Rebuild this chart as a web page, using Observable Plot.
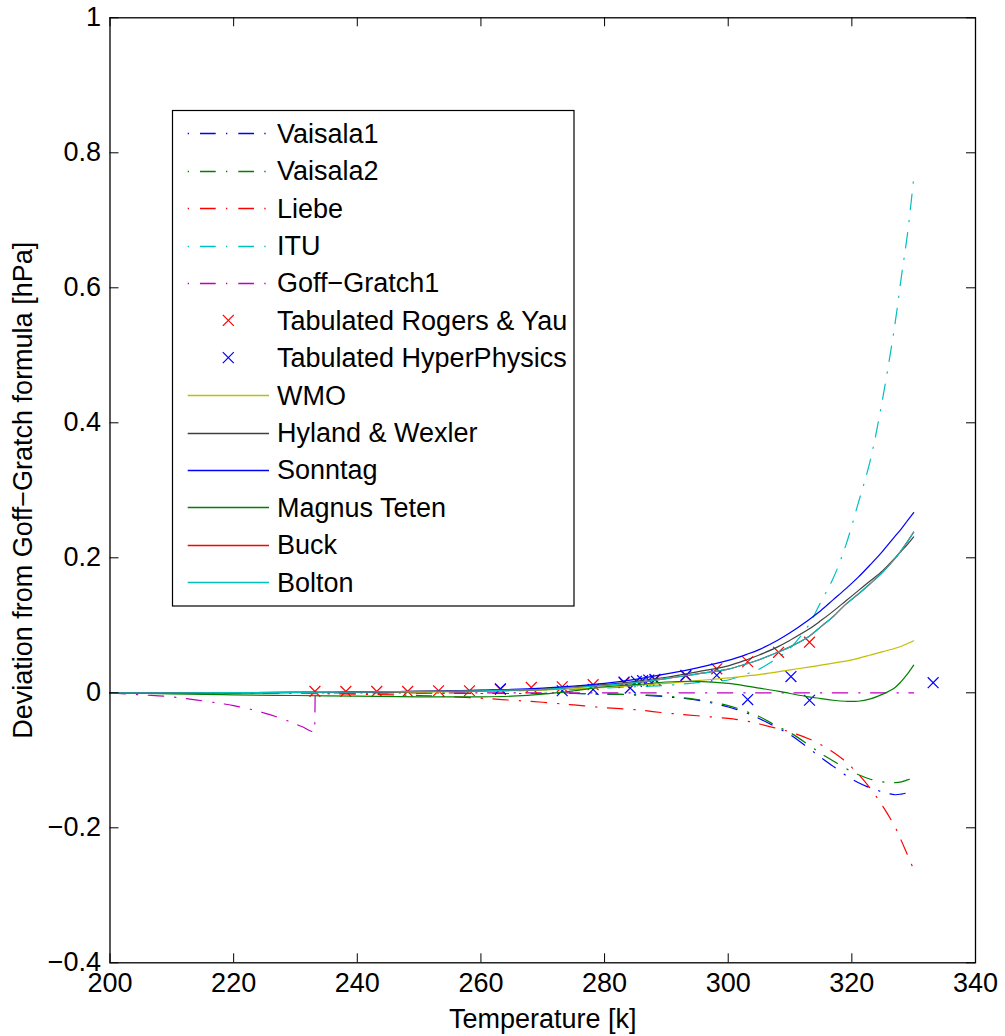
<!DOCTYPE html>
<html>
<head>
<meta charset="utf-8">
<script src="https://cdn.jsdelivr.net/npm/d3@7"></script>
<script src="https://cdn.jsdelivr.net/npm/@observablehq/plot@0.6"></script>
<style>
  html, body { margin: 0; padding: 0; background: white; }
  #wrap { position: relative; width: 1005px; height: 1036px; }
  #legend { position: absolute; left: 0; top: 0; pointer-events: none; }
</style>
</head>
<body>
<div id="wrap"></div>
<script>
// ---------- data ----------
const xTicks = [200, 220, 240, 260, 280, 300, 320, 340];
const yTicks = [-0.4, -0.2, 0, 0.2, 0.4, 0.6, 0.8, 1];
const xLabel = "Temperature [k]";
const yLabel = "Deviation from Goff\u2212Gratch formula [hPa]";

// common temperature grid for the formula curves [K]
const tGrid = [200, 210, 220, 230, 240, 250, 260, 265, 270, 275, 280, 285, 290, 295, 300, 303, 305, 308, 310, 313, 315, 317, 319, 321, 323, 325, 327, 328, 329, 330];

const vaisala1 = [0, 0, 0, 0, 0, 0, -0.001, -0.001, -0.001, -0.001, -0.002, -0.003, -0.006, -0.011, -0.021, -0.030, -0.038, -0.052, -0.062, -0.082, -0.096, -0.109, -0.122, -0.133, -0.141, -0.147, -0.151, -0.150, -0.148, -0.145];
const vaisala2 = [0, 0, 0, 0, 0, 0, -0.001, -0.001, -0.001, -0.001, -0.002, -0.003, -0.005, -0.010, -0.019, -0.028, -0.035, -0.050, -0.059, -0.077, -0.090, -0.101, -0.112, -0.121, -0.128, -0.132, -0.133, -0.132, -0.129, -0.126];
const liebe    = [0, 0, -0.0005, -0.001, -0.002, -0.004, -0.008, -0.011, -0.014, -0.018, -0.022, -0.025, -0.030, -0.034, -0.038, -0.042, -0.046, -0.053, -0.058, -0.068, -0.077, -0.088, -0.102, -0.120, -0.142, -0.168, -0.199, -0.219, -0.240, -0.262];
const itu      = [0, 0, 0, 0.0005, 0.001, 0.001, 0.002, 0.003, 0.004, 0.005, 0.007, 0.009, 0.011, 0.015, 0.019, 0.028, 0.035, 0.052, 0.066, 0.100, 0.135, 0.170, 0.218, 0.280, 0.345, 0.437, 0.548, 0.616, 0.680, 0.762];
const wmo      = [0, 0, 0, 0, 0.0005, 0.001, 0.002, 0.003, 0.004, 0.006, 0.008, 0.011, 0.014, 0.018, 0.022, 0.025, 0.027, 0.031, 0.034, 0.038, 0.041, 0.044, 0.047, 0.051, 0.056, 0.061, 0.066, 0.069, 0.073, 0.077];
const hyland   = [0, 0, 0.0003, 0.0006, 0.001, 0.002, 0.0035, 0.0045, 0.006, 0.009, 0.012, 0.017, 0.023, 0.031, 0.040, 0.049, 0.056, 0.068, 0.078, 0.094, 0.107, 0.121, 0.136, 0.151, 0.166, 0.181, 0.200, 0.210, 0.220, 0.231];
const sonntag  = [0, 0, 0.0003, 0.0006, 0.001, 0.002, 0.004, 0.005, 0.007, 0.010, 0.014, 0.020, 0.028, 0.037, 0.048, 0.057, 0.064, 0.078, 0.089, 0.108, 0.122, 0.138, 0.154, 0.171, 0.190, 0.210, 0.232, 0.243, 0.255, 0.267];
const magnus   = [0, -0.0015, -0.003, -0.004, -0.005, -0.006, -0.006, -0.005, -0.002, 0.003, 0.009, 0.012, 0.016, 0.017, 0.014, 0.010, 0.007, 0.0025, -0.001, -0.006, -0.0085, -0.011, -0.0125, -0.0125, -0.009, -0.002, 0.008, 0.017, 0.028, 0.041];
const buck     = [0, 0, 0.0003, 0.0006, 0.001, 0.002, 0.003, 0.004, 0.005, 0.008, 0.011, 0.015, 0.021, 0.028, 0.035, 0.043, 0.049, 0.060, 0.068, 0.083, 0.098, 0.113, 0.131, 0.146, 0.162, 0.179, 0.199, 0.211, 0.224, 0.238];
const bolton   = [0, 0, 0.0003, 0.0006, 0.001, 0.002, 0.003, 0.004, 0.005, 0.008, 0.011, 0.015, 0.021, 0.028, 0.035, 0.043, 0.049, 0.060, 0.068, 0.083, 0.098, 0.113, 0.131, 0.146, 0.162, 0.179, 0.199, 0.211, 0.224, 0.238];

// Goff-Gratch1 (ice below 233.15 K)
const goffT = [200, 205, 210, 215, 220, 225, 228, 231, 233.1, 233.2, 260, 300, 330];
const goffV = [0, -0.003, -0.006, -0.012, -0.019, -0.030, -0.039, -0.050, -0.058, 0, 0, 0, 0];

// tabulated values
const rogersT = [233.15, 238.15, 243.15, 248.15, 253.15, 258.15, 263.15, 268.15, 273.15, 278.15, 283.15, 288.15, 293.15, 298.15, 303.15, 308.15, 313.15];
const rogersV = [0.002, 0.002, 0.002, 0.002, 0.003, 0.003, 0.005, 0.008, 0.009, 0.012, 0.015, 0.019, 0.025, 0.0355, 0.046, 0.060, 0.075];
const hyperT = [263.15, 273.15, 278.15, 283.15, 284.15, 285.15, 286.15, 287.15, 288.15, 293.15, 298.15, 303.15, 310.15, 313.15, 333.15];
const hyperV = [0.006, 0.003, 0.005, 0.016, 0.007, 0.017, 0.018, 0.019, 0.020, 0.026, 0.026, -0.010, 0.024, -0.011, 0.015];

// legend
const legendNames = ["Vaisala1", "Vaisala2", "Liebe", "ITU", "Goff\u2212Gratch1", "Tabulated Rogers & Yau", "Tabulated HyperPhysics", "WMO", "Hyland & Wexler", "Sonntag", "Magnus Teten", "Buck", "Bolton"];
const legendColors = ["#0000ff", "#008000", "#ff0000", "#00bfbf", "#bf00bf", "#ff0000", "#0000ff", "#bfbf00", "#404040", "#0000ff", "#008000", "#ff0000", "#00bfbf"];
const legendKinds = ["dashdot", "dashdot", "dashdot", "dashdot", "dashdot", "cross", "cross", "solid", "solid", "solid", "solid", "solid", "solid"];

// ---------- build ----------
const W = 1005, H = 1036;
const mL = 109.5, mR = 30, mT = 17.3, mB = 73.7;
const innerW = W - mL - mR, innerH = H - mT - mB;
const font = "'Liberation Sans', Arial, Helvetica, sans-serif";
const FS = 27;
const DASHDOT = "15.5,11,1.3,10.5";
const SW = 1.2;

const seriesCurves = [
  {vals: vaisala1, color: legendColors[0]},
  {vals: vaisala2, color: legendColors[1]},
  {vals: liebe, color: legendColors[2]},
  {vals: itu, color: legendColors[3]},
];
const seriesSolid = [
  {vals: wmo, color: legendColors[7]},
  {vals: hyland, color: legendColors[8]},
  {vals: sonntag, color: legendColors[9]},
  {vals: magnus, color: legendColors[10]},
  {vals: buck, color: legendColors[11]},
  {vals: bolton, color: legendColors[12]},
];
const toRows = (ts, vs) => ts.map((t, i) => ({T: t, v: vs[i]}));

const fmtY = d => d === 0 ? "0" : (d < 0 ? "\u2212" : "") + String(+Math.abs(d).toFixed(1));

const marks = [];
for (const s of seriesCurves) {
  marks.push(Plot.line(toRows(tGrid, s.vals), {x: "T", y: "v", stroke: s.color, strokeWidth: SW, strokeDasharray: DASHDOT, curve: "catmull-rom"}));
}
marks.push(Plot.line(toRows(goffT, goffV), {x: "T", y: "v", stroke: legendColors[4], strokeWidth: SW, strokeDasharray: DASHDOT, curve: "monotone-x"}));
marks.push(Plot.dot(toRows(rogersT, rogersV), {x: "T", y: "v", symbol: "times", r: 5, stroke: legendColors[5], strokeWidth: SW}));
marks.push(Plot.dot(toRows(hyperT, hyperV), {x: "T", y: "v", symbol: "times", r: 5, stroke: legendColors[6], strokeWidth: SW}));
for (const s of seriesSolid) {
  marks.push(Plot.line(toRows(tGrid, s.vals), {x: "T", y: "v", stroke: s.color, strokeWidth: SW, curve: "catmull-rom"}));
}
// inward ticks on all four sides
marks.push(Plot.tickX(xTicks, {x: d => d, insetTop: innerH - 9, stroke: "black", strokeWidth: 1}));
marks.push(Plot.tickX(xTicks, {x: d => d, insetBottom: innerH - 9, stroke: "black", strokeWidth: 1}));
marks.push(Plot.tickY(yTicks, {y: d => d, insetRight: innerW - 9, stroke: "black", strokeWidth: 1}));
marks.push(Plot.tickY(yTicks, {y: d => d, insetLeft: innerW - 9, stroke: "black", strokeWidth: 1}));
marks.push(Plot.frame({stroke: "black", strokeWidth: 1.3}));
marks.push(Plot.axisX(xTicks, {tickSize: 0, tickPadding: 10, label: null, fontSize: FS, fill: "black"}));
marks.push(Plot.axisY(yTicks, {tickSize: 0, tickPadding: 9, label: null, tickFormat: fmtY, fontSize: FS, fill: "black"}));
marks.push(Plot.text([xLabel], {text: d => d, frameAnchor: "bottom", textAnchor: "middle", lineAnchor: "middle", dy: 57, fontSize: FS, fill: "black"}));
marks.push(Plot.text([yLabel], {text: d => d, frameAnchor: "left", textAnchor: "middle", lineAnchor: "middle", rotate: -90, dx: -87, fontSize: FS, fill: "black"}));

const chart = Plot.plot({
  width: W, height: H,
  marginLeft: mL, marginRight: mR, marginTop: mT, marginBottom: mB,
  x: {domain: [200, 340]},
  y: {domain: [-0.4, 1]},
  style: {fontFamily: font, fontSize: FS + "px", background: "white", color: "black"},
  marks
});
const wrap = document.getElementById("wrap");
wrap.appendChild(chart);

// ---------- legend overlay ----------
const lg = d3.select(wrap).append("svg").attr("id", "legend").attr("width", W).attr("height", H);
const box = {x: 172.5, y: 110.5, w: 401.5, h: 495.5};
lg.append("rect").attr("x", box.x).attr("y", box.y).attr("width", box.w).attr("height", box.h)
  .attr("fill", "white").attr("stroke", "black").attr("stroke-width", 1.2);
const row0 = 133.3, rowStep = 37.4;
legendNames.forEach((name, i) => {
  const y = row0 + i * rowStep;
  const yl = Math.round(y) + 0.5;
  const c = legendColors[i], k = legendKinds[i];
  if (k === "cross") {
    const r = 5.5;
    lg.append("path").attr("d", `M${228.3 - r},${y - r}L${228.3 + r},${y + r}M${228.3 - r},${y + r}L${228.3 + r},${y - r}`)
      .attr("stroke", c).attr("stroke-width", SW).attr("fill", "none");
  } else {
    const ln = lg.append("line").attr("x1", 187.7).attr("x2", 269).attr("y1", yl).attr("y2", yl)
      .attr("stroke", c).attr("stroke-width", 1.3);
    if (k === "dashdot") ln.attr("stroke-dasharray", "1.3,11,15.7,10.3");
  }
  lg.append("text").attr("x", 277).attr("y", y).attr("dy", "0.35em")
    .attr("font-family", font).attr("font-size", FS).attr("fill", "black").text(name);
});
</script>
</body>
</html>
